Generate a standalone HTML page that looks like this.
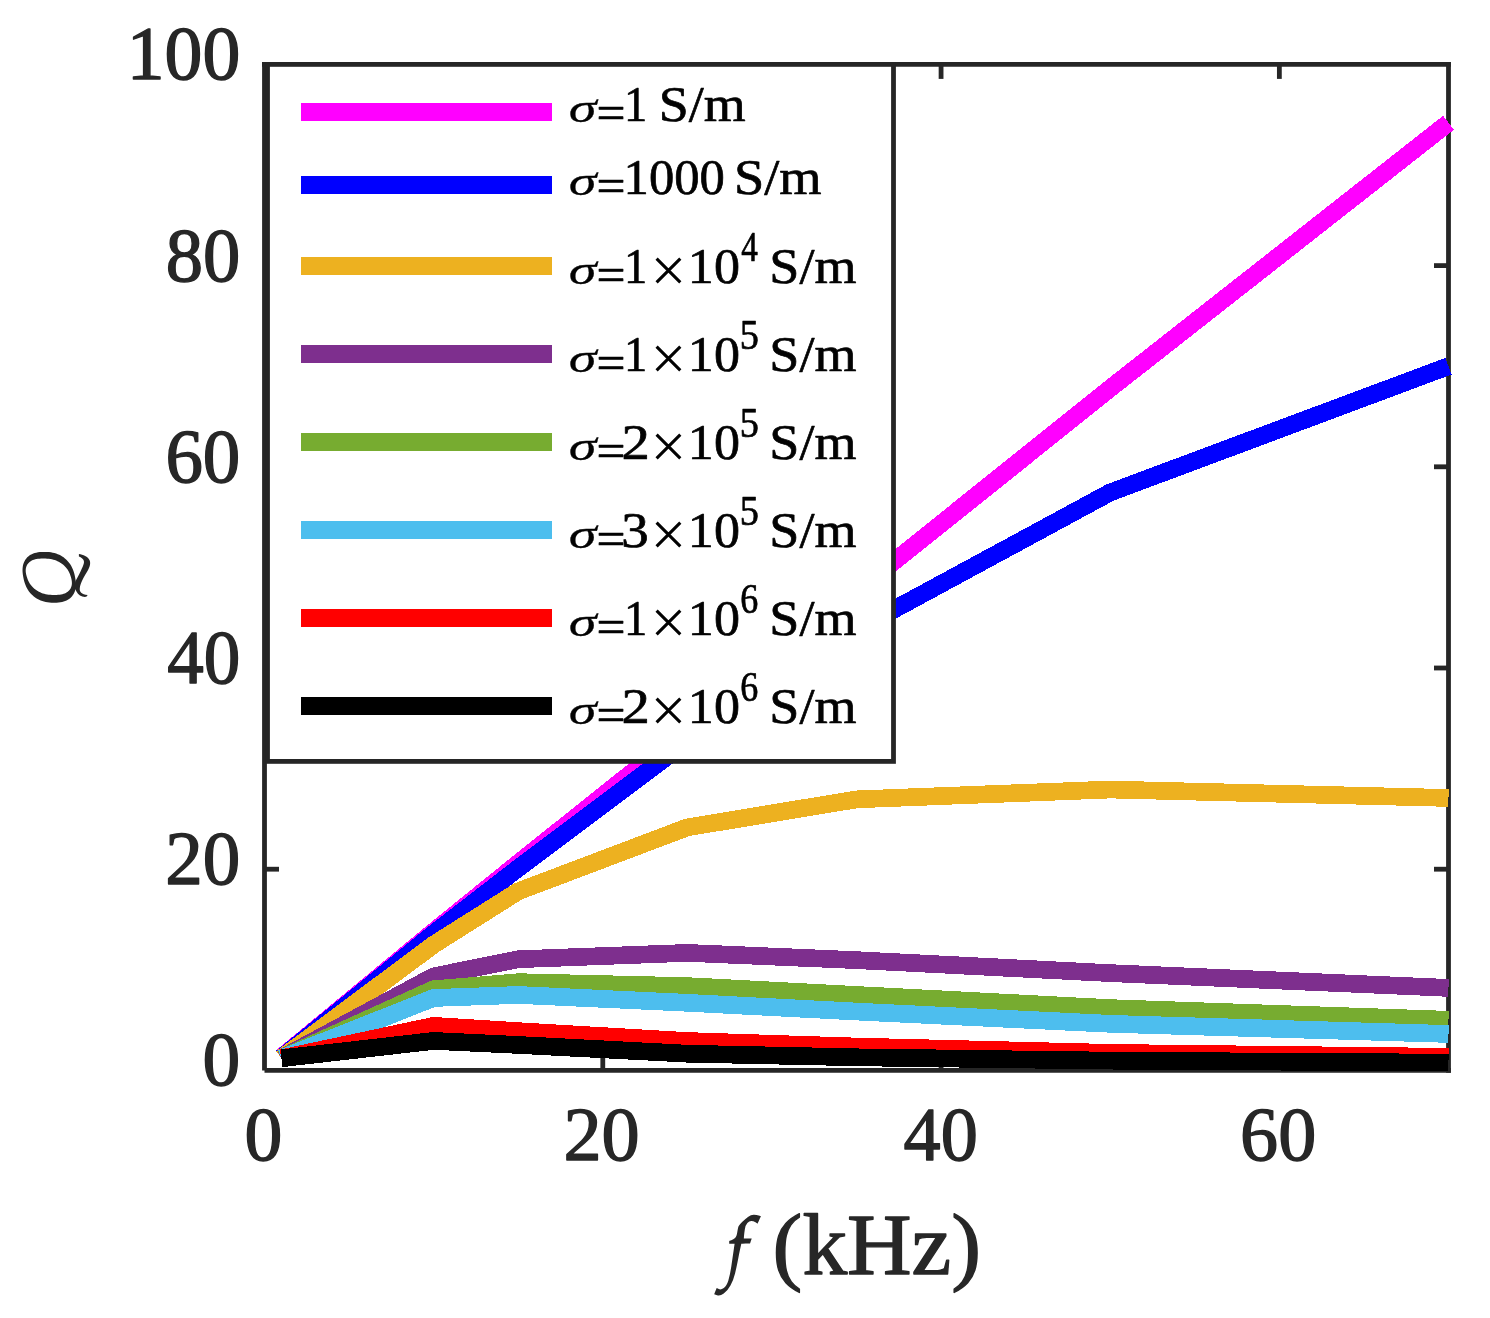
<!DOCTYPE html>
<html><head><meta charset="utf-8"><title>Q vs f</title>
<style>
html,body{margin:0;padding:0;background:#fff;}
body{width:1490px;height:1318px;overflow:hidden;font-family:"Liberation Serif",serif;}
svg{display:block;position:absolute;left:0;top:0;}
text{font-family:"Liberation Serif",serif;}
.tk{fill:#262626;stroke:#262626;stroke-linejoin:round;}
.lb{fill:#262626;stroke:#262626;stroke-linejoin:round;}
.lg{fill:#000;stroke:#000;stroke-linejoin:round;}
</style></head><body>
<svg width="1490" height="1318" viewBox="0 0 1490 1318">
<rect x="0" y="0" width="1490" height="1318" fill="#fff"/>

<g stroke="#262626" stroke-width="4.8" fill="none" stroke-linecap="butt">
<line x1="262" y1="64.4" x2="1450.9" y2="64.4"/>
<line x1="1448.5" y1="62" x2="1448.5" y2="1072.8"/>
<line x1="264.5" y1="62" x2="264.5" y2="1070.4"/>
<line x1="264.5" y1="1070.4" x2="1450.9" y2="1070.4"/>
<line x1="602.79" y1="1070.4" x2="602.79" y2="1055.9"/>
<line x1="602.79" y1="64.4" x2="602.79" y2="78.9"/>
<line x1="941.07" y1="1070.4" x2="941.07" y2="1055.9"/>
<line x1="941.07" y1="64.4" x2="941.07" y2="78.9"/>
<line x1="1279.36" y1="1070.4" x2="1279.36" y2="1055.9"/>
<line x1="1279.36" y1="64.4" x2="1279.36" y2="78.9"/>
<line x1="264.5" y1="869.20" x2="279.0" y2="869.20"/>
<line x1="1448.5" y1="869.20" x2="1434.0" y2="869.20"/>
<line x1="264.5" y1="668.00" x2="279.0" y2="668.00"/>
<line x1="1448.5" y1="668.00" x2="1434.0" y2="668.00"/>
<line x1="264.5" y1="466.80" x2="279.0" y2="466.80"/>
<line x1="1448.5" y1="466.80" x2="1434.0" y2="466.80"/>
<line x1="264.5" y1="265.60" x2="279.0" y2="265.60"/>
<line x1="1448.5" y1="265.60" x2="1434.0" y2="265.60"/>
</g>
<g fill="none" stroke-width="17.7" stroke-linejoin="miter" stroke-linecap="butt" shape-rendering="crispEdges">
<polyline stroke="#FF00FF" points="281.41,1057.32 433.64,931.57 518.21,863.16 687.36,728.36 856.50,591.54 1110.21,388.33 1448.50,122.75"/>
<polyline stroke="#0000FF" points="281.41,1057.83 433.64,933.58 518.21,868.19 687.36,741.44 856.50,629.77 1110.21,492.45 1448.50,366.20"/>
<polyline stroke="#EDB120" points="281.41,1058.33 433.64,944.65 518.21,891.33 687.36,827.35 856.50,799.38 1110.21,789.52 1448.50,797.98"/>
<polyline stroke="#7E2F8E" points="281.41,1058.33 433.64,976.34 518.21,959.24 687.36,952.90 856.50,960.14 1110.21,973.12 1448.50,987.91"/>
<polyline stroke="#77AC30" points="281.41,1058.33 433.64,989.22 518.21,982.17 687.36,986.10 856.50,994.95 1110.21,1008.13 1448.50,1019.80"/>
<polyline stroke="#4DBEEE" points="281.41,1058.33 433.64,997.97 518.21,994.95 687.36,1002.80 856.50,1011.55 1110.21,1023.82 1448.50,1033.98"/>
<polyline stroke="#FF0000" points="281.41,1058.33 433.64,1025.83 518.21,1031.17 687.36,1041.02 856.50,1046.56 1110.21,1052.90 1448.50,1056.82"/>
<polyline stroke="#000000" points="281.41,1058.33 433.64,1040.92 518.21,1044.95 687.36,1053.70 856.50,1057.32 1110.21,1060.64 1448.50,1062.65"/>
</g>
<rect x="267.5" y="64.4" width="626.0" height="697.0" fill="#fff" stroke="#262626" stroke-width="4.8"/>
<g shape-rendering="crispEdges">
<rect x="301" y="102.8" width="251" height="18" fill="#FF00FF"/>
<rect x="301" y="175.8" width="251" height="18" fill="#0000FF"/>
<rect x="301" y="256.8" width="251" height="18" fill="#EDB120"/>
<rect x="301" y="344.8" width="251" height="18" fill="#7E2F8E"/>
<rect x="301" y="432.8" width="251" height="18" fill="#77AC30"/>
<rect x="301" y="520.8" width="251" height="18" fill="#4DBEEE"/>
<rect x="301" y="608.8" width="251" height="18" fill="#FF0000"/>
<rect x="301" y="696.8" width="251" height="18" fill="#000000"/>
</g>
<g style="opacity:0.995">
<text class="lg" font-size="200" font-style="italic" stroke-width="1.2" transform="translate(568.77,121.84) scale(0.28175,0.20937)">σ</text>
<text class="lg" font-size="200" stroke-width="3.2" transform="translate(596.54,127.61) scale(0.25681,0.23200)">=</text>
<text class="lg" font-size="200" stroke-width="2.8" transform="translate(623.96,120.90) scale(0.23292,0.25000)">1</text>
<text class="lg" font-size="200" stroke-width="2.8" transform="translate(658.75,120.90) scale(0.26940,0.25000)">S/m</text>
<text class="lg" font-size="200" font-style="italic" stroke-width="1.2" transform="translate(568.77,195.04) scale(0.28175,0.20937)">σ</text>
<text class="lg" font-size="200" stroke-width="3.2" transform="translate(596.54,200.81) scale(0.25681,0.23200)">=</text>
<text class="lg" font-size="200" stroke-width="2.8" transform="translate(623.60,194.10) scale(0.25293,0.25000)">1000</text>
<text class="lg" font-size="200" stroke-width="2.8" transform="translate(733.92,194.10) scale(0.27169,0.25000)">S/m</text>
<text class="lg" font-size="200" font-style="italic" stroke-width="1.2" transform="translate(568.77,283.74) scale(0.28175,0.20937)">σ</text>
<text class="lg" font-size="200" stroke-width="3.2" transform="translate(596.54,289.51) scale(0.25681,0.23200)">=</text>
<text class="lg" font-size="200" stroke-width="2.8" transform="translate(623.96,282.80) scale(0.23292,0.25000)">1</text>
<path d="M656.6,258.6 L680.3,282.4 M680.3,258.6 L656.6,282.4" stroke="#000" stroke-width="3.1" fill="none"/>
<text class="lg" font-size="200" stroke-width="2.8" transform="translate(687.87,282.80) scale(0.26029,0.25000)">10</text>
<text class="lg" font-size="160" stroke-width="2.8" transform="translate(741.20,260.90) scale(0.20706,0.26000)">4</text>
<text class="lg" font-size="200" stroke-width="2.8" transform="translate(769.33,282.80) scale(0.27039,0.25000)">S/m</text>
<text class="lg" font-size="200" font-style="italic" stroke-width="1.2" transform="translate(568.77,371.74) scale(0.28175,0.20937)">σ</text>
<text class="lg" font-size="200" stroke-width="3.2" transform="translate(596.54,377.51) scale(0.25681,0.23200)">=</text>
<text class="lg" font-size="200" stroke-width="2.8" transform="translate(623.96,370.80) scale(0.23292,0.25000)">1</text>
<path d="M656.6,346.6 L680.3,370.4 M680.3,346.6 L656.6,370.4" stroke="#000" stroke-width="3.1" fill="none"/>
<text class="lg" font-size="200" stroke-width="2.8" transform="translate(687.87,370.80) scale(0.26029,0.25000)">10</text>
<text class="lg" font-size="160" stroke-width="2.8" transform="translate(739.63,348.90) scale(0.23893,0.26000)">5</text>
<text class="lg" font-size="200" stroke-width="2.8" transform="translate(769.33,370.80) scale(0.27039,0.25000)">S/m</text>
<text class="lg" font-size="200" font-style="italic" stroke-width="1.2" transform="translate(568.77,459.74) scale(0.28175,0.20937)">σ</text>
<text class="lg" font-size="200" stroke-width="3.2" transform="translate(596.54,465.51) scale(0.25681,0.23200)">=</text>
<text class="lg" font-size="200" stroke-width="2.8" transform="translate(621.46,458.80) scale(0.28313,0.25000)">2</text>
<path d="M656.6,434.6 L680.3,458.4 M680.3,434.6 L656.6,458.4" stroke="#000" stroke-width="3.1" fill="none"/>
<text class="lg" font-size="200" stroke-width="2.8" transform="translate(687.87,458.80) scale(0.26029,0.25000)">10</text>
<text class="lg" font-size="160" stroke-width="2.8" transform="translate(739.63,436.90) scale(0.23893,0.26000)">5</text>
<text class="lg" font-size="200" stroke-width="2.8" transform="translate(769.33,458.80) scale(0.27039,0.25000)">S/m</text>
<text class="lg" font-size="200" font-style="italic" stroke-width="1.2" transform="translate(568.77,547.74) scale(0.28175,0.20937)">σ</text>
<text class="lg" font-size="200" stroke-width="3.2" transform="translate(596.54,553.51) scale(0.25681,0.23200)">=</text>
<text class="lg" font-size="200" stroke-width="2.8" transform="translate(621.32,546.80) scale(0.27476,0.25000)">3</text>
<path d="M656.6,522.6 L680.3,546.4 M680.3,522.6 L656.6,546.4" stroke="#000" stroke-width="3.1" fill="none"/>
<text class="lg" font-size="200" stroke-width="2.8" transform="translate(687.87,546.80) scale(0.26029,0.25000)">10</text>
<text class="lg" font-size="160" stroke-width="2.8" transform="translate(739.63,524.90) scale(0.23893,0.26000)">5</text>
<text class="lg" font-size="200" stroke-width="2.8" transform="translate(769.33,546.80) scale(0.27039,0.25000)">S/m</text>
<text class="lg" font-size="200" font-style="italic" stroke-width="1.2" transform="translate(568.77,635.74) scale(0.28175,0.20937)">σ</text>
<text class="lg" font-size="200" stroke-width="3.2" transform="translate(596.54,641.51) scale(0.25681,0.23200)">=</text>
<text class="lg" font-size="200" stroke-width="2.8" transform="translate(623.96,634.80) scale(0.23292,0.25000)">1</text>
<path d="M656.6,610.6 L680.3,634.4 M680.3,610.6 L656.6,634.4" stroke="#000" stroke-width="3.1" fill="none"/>
<text class="lg" font-size="200" stroke-width="2.8" transform="translate(687.87,634.80) scale(0.26029,0.25000)">10</text>
<text class="lg" font-size="160" stroke-width="2.8" transform="translate(740.30,612.90) scale(0.22528,0.26000)">6</text>
<text class="lg" font-size="200" stroke-width="2.8" transform="translate(769.33,634.80) scale(0.27039,0.25000)">S/m</text>
<text class="lg" font-size="200" font-style="italic" stroke-width="1.2" transform="translate(568.77,723.74) scale(0.28175,0.20937)">σ</text>
<text class="lg" font-size="200" stroke-width="3.2" transform="translate(596.54,729.51) scale(0.25681,0.23200)">=</text>
<text class="lg" font-size="200" stroke-width="2.8" transform="translate(621.46,722.80) scale(0.28313,0.25000)">2</text>
<path d="M656.6,698.6 L680.3,722.4 M680.3,698.6 L656.6,722.4" stroke="#000" stroke-width="3.1" fill="none"/>
<text class="lg" font-size="200" stroke-width="2.8" transform="translate(687.87,722.80) scale(0.26029,0.25000)">10</text>
<text class="lg" font-size="160" stroke-width="2.8" transform="translate(740.30,700.90) scale(0.22528,0.26000)">6</text>
<text class="lg" font-size="200" stroke-width="2.8" transform="translate(769.33,722.80) scale(0.27039,0.25000)">S/m</text>
<text class="tk" font-size="312" stroke-width="5.6" transform="translate(202.62,1085.45) scale(0.24199,0.24461)">0</text>
<text class="tk" font-size="312" stroke-width="5.6" transform="translate(165.30,884.25) scale(0.24057,0.24461)">20</text>
<text class="tk" font-size="312" stroke-width="5.6" transform="translate(167.17,683.05) scale(0.23434,0.24461)">40</text>
<text class="tk" font-size="312" stroke-width="5.6" transform="translate(165.38,481.85) scale(0.24031,0.24461)">60</text>
<text class="tk" font-size="312" stroke-width="5.6" transform="translate(165.76,280.65) scale(0.23904,0.24461)">80</text>
<text class="tk" font-size="312" stroke-width="5.6" transform="translate(126.74,79.45) scale(0.24283,0.24461)">100</text>
<text class="tk" font-size="312" stroke-width="5.6" transform="translate(244.57,1159.56) scale(0.24275,0.24129)">0</text>
<text class="tk" font-size="312" stroke-width="5.6" transform="translate(563.43,1159.56) scale(0.24441,0.24129)">20</text>
<text class="tk" font-size="312" stroke-width="5.6" transform="translate(903.62,1159.56) scale(0.23808,0.24129)">40</text>
<text class="tk" font-size="312" stroke-width="5.6" transform="translate(1240.08,1159.56) scale(0.24415,0.24129)">60</text>
<path d="M759.20,1220.05 Q760.90,1216.30 760.90,1216.30 Q760.90,1216.30 758.70,1215.50 Q756.50,1214.70 753.70,1214.75 Q750.90,1214.80 747.95,1217.00 Q745.00,1219.20 742.10,1222.10 Q739.20,1225.00 738.55,1226.25 Q737.90,1227.50 737.30,1232.10 Q736.70,1236.70 735.05,1238.05 Q733.40,1239.40 731.30,1240.20 Q729.20,1241.00 729.20,1241.00 Q729.20,1241.00 729.20,1242.40 Q729.20,1243.80 729.20,1243.80 Q729.20,1243.80 731.90,1243.80 Q734.60,1243.80 734.60,1243.80 Q734.60,1243.80 733.55,1251.10 Q732.50,1258.40 731.25,1266.75 Q730.00,1275.10 728.35,1280.50 Q726.70,1285.90 723.80,1288.00 Q720.90,1290.10 718.80,1289.05 Q716.70,1288.00 716.70,1288.00 Q716.70,1288.00 715.45,1291.10 Q714.20,1294.20 714.20,1294.20 Q714.20,1294.20 717.10,1295.20 Q720.00,1296.20 723.75,1293.55 Q727.50,1290.90 730.45,1285.50 Q733.40,1280.10 735.05,1273.40 Q736.70,1266.70 737.95,1260.05 Q739.20,1253.40 740.25,1248.60 Q741.30,1243.80 741.30,1243.80 Q741.30,1243.80 745.65,1243.60 Q750.00,1243.40 750.00,1243.40 Q750.00,1243.40 750.85,1240.90 Q751.70,1238.40 751.70,1238.40 Q751.70,1238.40 747.75,1238.40 Q743.80,1238.40 743.80,1238.40 Q743.80,1238.40 744.00,1235.90 Q744.20,1233.40 744.85,1229.20 Q745.50,1225.00 747.35,1222.95 Q749.20,1220.90 751.30,1220.90 Q753.40,1220.90 755.45,1222.35 Q757.50,1223.80 757.50,1223.80 Q757.50,1223.80 759.20,1220.05 Z" fill="#262626"/>
<text class="lb" font-size="344" stroke-width="5.2" transform="translate(772.62,1274.10) scale(0.25985,0.25000)">(kHz)</text>
</g>
<path d="M75.10,577.30 L75.53,579.79 L75.76,581.79 L75.88,583.62 L75.87,585.34 L75.76,586.97 L75.54,588.52 L75.22,589.99 L74.79,591.38 L74.26,592.70 L73.63,593.95 L72.90,595.12 L72.08,596.21 L71.16,597.23 L70.14,598.16 L69.03,599.01 L67.83,599.77 L66.53,600.45 L65.15,601.04 L63.67,601.55 L62.08,601.96 L60.39,602.28 L58.57,602.51 L56.56,602.65 L54.03,602.70 L51.47,602.65 L49.41,602.51 L47.50,602.28 L45.69,601.96 L43.95,601.55 L42.28,601.04 L40.66,600.45 L39.11,599.77 L37.62,599.01 L36.19,598.16 L34.82,597.23 L33.51,596.21 L32.27,595.12 L31.09,593.95 L29.99,592.70 L28.96,591.38 L28.00,589.99 L27.12,588.52 L26.31,586.97 L25.58,585.34 L24.93,583.62 L24.34,581.79 L23.82,579.79 L23.30,577.30 L22.87,574.81 L22.64,572.81 L22.52,570.98 L22.53,569.26 L22.64,567.63 L22.86,566.08 L23.18,564.61 L23.61,563.22 L24.14,561.90 L24.77,560.65 L25.50,559.48 L26.32,558.39 L27.24,557.37 L28.26,556.44 L29.37,555.59 L30.57,554.83 L31.87,554.15 L33.25,553.56 L34.73,553.05 L36.32,552.64 L38.01,552.32 L39.83,552.09 L41.84,551.95 L44.37,551.90 L46.93,551.95 L48.99,552.09 L50.90,552.32 L52.71,552.64 L54.45,553.05 L56.12,553.56 L57.74,554.15 L59.29,554.83 L60.78,555.59 L62.21,556.44 L63.58,557.37 L64.89,558.39 L66.13,559.48 L67.31,560.65 L68.41,561.90 L69.44,563.22 L70.40,564.61 L71.28,566.08 L72.09,567.63 L72.82,569.26 L73.47,570.98 L74.06,572.81 L74.58,574.81 Z M70.80,576.75 L70.22,574.96 L69.67,573.52 L69.08,572.21 L68.43,570.97 L67.72,569.80 L66.95,568.69 L66.12,567.64 L65.23,566.63 L64.28,565.68 L63.28,564.79 L62.22,563.95 L61.10,563.16 L59.94,562.43 L58.72,561.76 L57.46,561.15 L56.15,560.60 L54.80,560.11 L53.40,559.69 L51.95,559.33 L50.45,559.03 L48.89,558.80 L47.25,558.63 L45.49,558.53 L43.33,558.50 L41.18,558.53 L39.48,558.63 L37.94,558.80 L36.52,559.03 L35.20,559.33 L33.97,559.69 L32.82,560.11 L31.76,560.60 L30.78,561.15 L29.88,561.76 L29.07,562.43 L28.34,563.16 L27.70,563.95 L27.15,564.79 L26.68,565.68 L26.30,566.63 L26.01,567.64 L25.82,568.69 L25.71,569.80 L25.71,570.97 L25.80,572.21 L25.99,573.52 L26.30,574.96 L26.80,576.75 L27.38,578.54 L27.93,579.98 L28.52,581.29 L29.17,582.53 L29.88,583.70 L30.65,584.81 L31.48,585.86 L32.37,586.87 L33.32,587.82 L34.32,588.71 L35.38,589.55 L36.50,590.34 L37.66,591.07 L38.88,591.74 L40.14,592.35 L41.45,592.90 L42.80,593.39 L44.20,593.81 L45.65,594.17 L47.15,594.47 L48.71,594.70 L50.35,594.87 L52.11,594.97 L54.27,595.00 L56.42,594.97 L58.12,594.87 L59.66,594.70 L61.08,594.47 L62.40,594.17 L63.63,593.81 L64.78,593.39 L65.84,592.90 L66.82,592.35 L67.72,591.74 L68.53,591.07 L69.26,590.34 L69.90,589.55 L70.45,588.71 L70.92,587.82 L71.30,586.87 L71.59,585.86 L71.78,584.81 L71.89,583.70 L71.89,582.53 L71.80,581.29 L71.61,579.98 L71.30,578.54 Z" fill="#262626" fill-rule="evenodd"/>
<path d="M78.9,554.0 C83,554.5 88,556.5 89.7,560.5 C91,564 89.5,568 86.3,573.1 C84,577 80.5,583 79.8,588 C79.3,592 81.5,594.3 87.7,595.0 L86.3,596.8 C82,597.3 78.5,595.5 76.3,591.3 L74.0,587 L75.5,581 C79,575 83,567 83.9,563 C84.5,560 82.5,558 78.9,556.5 Z" fill="#262626"/>
</svg></body></html>
